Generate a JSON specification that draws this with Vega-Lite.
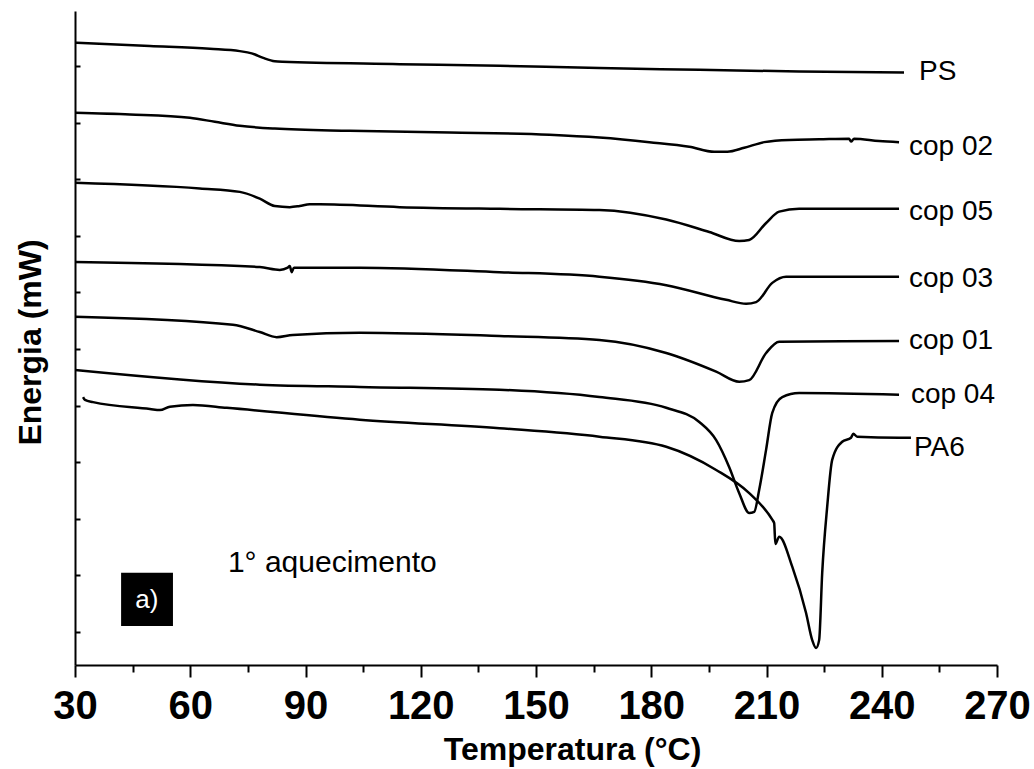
{
  "$schema": "https://vega.github.io/schema/vega-lite/v6.json",
  "autosize": "none",
  "width": 922,
  "height": 654,
  "padding": {"left": 75, "top": 11, "right": 37, "bottom": 104},
  "background": "white",
  "config": {
    "view": {"stroke": null},
    "font": "Liberation Sans",
    "text": {"font": "Liberation Sans"}
  },
  "layer": [
    {
      "data": {"values": [
        {"s":"PS","T":30,"E":10.92},{"s":"PS","T":49.5,"E":10.86},{"s":"PS","T":65.1,"E":10.81},{"s":"PS","T":72.9,"E":10.77},{"s":"PS","T":76.0,"E":10.73},{"s":"PS","T":79.0,"E":10.65},{"s":"PS","T":82.0,"E":10.59},{"s":"PS","T":84.0,"E":10.58},{"s":"PS","T":114.5,"E":10.54},{"s":"PS","T":140.5,"E":10.51},{"s":"PS","T":166.5,"E":10.47},{"s":"PS","T":192.5,"E":10.44},{"s":"PS","T":218.5,"E":10.41},{"s":"PS","T":245.8,"E":10.39},
        {"s":"cop 02","T":30,"E":9.68},{"s":"cop 02","T":44.3,"E":9.65},{"s":"cop 02","T":59.9,"E":9.59},{"s":"cop 02","T":66.4,"E":9.52},{"s":"cop 02","T":72.9,"E":9.45},{"s":"cop 02","T":82.0,"E":9.40},{"s":"cop 02","T":101.5,"E":9.36},{"s":"cop 02","T":127.5,"E":9.33},{"s":"cop 02","T":153.5,"E":9.29},{"s":"cop 02","T":166.5,"E":9.24},{"s":"cop 02","T":179.5,"E":9.16},{"s":"cop 02","T":189.9,"E":9.08},{"s":"cop 02","T":196.4,"E":8.99},{"s":"cop 02","T":199.8,"E":8.99},{"s":"cop 02","T":204.2,"E":9.06},{"s":"cop 02","T":209.4,"E":9.16},{"s":"cop 02","T":215.9,"E":9.20},{"s":"cop 02","T":223.7,"E":9.21},{"s":"cop 02","T":231.5,"E":9.22},{"s":"cop 02","T":232.0,"E":9.17},{"s":"cop 02","T":232.8,"E":9.22},{"s":"cop 02","T":239.3,"E":9.18},{"s":"cop 02","T":244.5,"E":9.16},
        {"s":"cop 05","T":30,"E":8.44},{"s":"cop 05","T":62.5,"E":8.34},{"s":"cop 05","T":72.9,"E":8.28},{"s":"cop 05","T":78.1,"E":8.16},{"s":"cop 05","T":82.0,"E":8.03},{"s":"cop 05","T":85.9,"E":8.01},{"s":"cop 05","T":88.5,"E":8.03},{"s":"cop 05","T":91.1,"E":8.06},{"s":"cop 05","T":93.7,"E":8.06},{"s":"cop 05","T":114.5,"E":8.01},{"s":"cop 05","T":140.5,"E":7.98},{"s":"cop 05","T":166.5,"E":7.96},{"s":"cop 05","T":183.9,"E":7.79},{"s":"cop 05","T":195.1,"E":7.57},{"s":"cop 05","T":202.9,"E":7.41},{"s":"cop 05","T":205.5,"E":7.43},{"s":"cop 05","T":209.9,"E":7.73},{"s":"cop 05","T":213.3,"E":7.93},{"s":"cop 05","T":218.5,"E":7.98},{"s":"cop 05","T":244.5,"E":7.98},
        {"s":"cop 03","T":30,"E":7.04},{"s":"cop 03","T":78.1,"E":6.95},{"s":"cop 03","T":83.3,"E":6.90},{"s":"cop 03","T":85.4,"E":6.94},{"s":"cop 03","T":85.9,"E":6.97},{"s":"cop 03","T":86.4,"E":6.86},{"s":"cop 03","T":87.0,"E":6.94},{"s":"cop 03","T":104.1,"E":6.94},{"s":"cop 03","T":140.5,"E":6.86},{"s":"cop 03","T":166.5,"E":6.78},{"s":"cop 03","T":183.9,"E":6.63},{"s":"cop 03","T":199.5,"E":6.37},{"s":"cop 03","T":204.7,"E":6.30},{"s":"cop 03","T":207.3,"E":6.33},{"s":"cop 03","T":211.5,"E":6.67},{"s":"cop 03","T":215.1,"E":6.78},{"s":"cop 03","T":244.5,"E":6.78},
        {"s":"cop 01","T":30,"E":6.07},{"s":"cop 01","T":71.1,"E":5.93},{"s":"cop 01","T":78.1,"E":5.80},{"s":"cop 01","T":82.5,"E":5.71},{"s":"cop 01","T":86.7,"E":5.75},{"s":"cop 01","T":104.1,"E":5.79},{"s":"cop 01","T":140.5,"E":5.73},{"s":"cop 01","T":166.5,"E":5.66},{"s":"cop 01","T":183.9,"E":5.43},{"s":"cop 01","T":196.9,"E":5.10},{"s":"cop 01","T":202.9,"E":4.92},{"s":"cop 01","T":205.5,"E":4.95},{"s":"cop 01","T":209.9,"E":5.43},{"s":"cop 01","T":213.3,"E":5.63},{"s":"cop 01","T":244.5,"E":5.64},
        {"s":"cop 04","T":30,"E":5.13},{"s":"cop 04","T":78.1,"E":4.87},{"s":"cop 04","T":104.1,"E":4.83},{"s":"cop 04","T":140.5,"E":4.78},{"s":"cop 04","T":166.5,"E":4.65},{"s":"cop 04","T":183.9,"E":4.46},{"s":"cop 04","T":192.5,"E":4.21},{"s":"cop 04","T":196.9,"E":3.89},{"s":"cop 04","T":200.3,"E":3.41},{"s":"cop 04","T":202.9,"E":2.95},{"s":"cop 04","T":205.5,"E":2.60},{"s":"cop 04","T":206.8,"E":2.62},{"s":"cop 04","T":208.1,"E":3.01},{"s":"cop 04","T":209.9,"E":3.72},{"s":"cop 04","T":211.5,"E":4.37},{"s":"cop 04","T":214.1,"E":4.65},{"s":"cop 04","T":218.5,"E":4.72},{"s":"cop 04","T":244.5,"E":4.69},
        {"s":"PA6","T":32.1,"E":4.65},{"s":"PA6","T":32.6,"E":4.60},{"s":"PA6","T":34.7,"E":4.56},{"s":"PA6","T":49.5,"E":4.44},{"s":"PA6","T":52.1,"E":4.42},{"s":"PA6","T":54.7,"E":4.48},{"s":"PA6","T":60.7,"E":4.51},{"s":"PA6","T":69.5,"E":4.46},{"s":"PA6","T":104.1,"E":4.25},{"s":"PA6","T":140.5,"E":4.10},{"s":"PA6","T":166.5,"E":3.95},{"s":"PA6","T":183.9,"E":3.77},{"s":"PA6","T":196.9,"E":3.36},{"s":"PA6","T":205.5,"E":2.95},{"s":"PA6","T":211.5,"E":2.48},{"s":"PA6","T":212.0,"E":2.42},{"s":"PA6","T":212.3,"E":2.05},{"s":"PA6","T":213.3,"E":2.18},{"s":"PA6","T":216.7,"E":1.65},{"s":"PA6","T":220.3,"E":0.83},{"s":"PA6","T":221.9,"E":0.35},{"s":"PA6","T":222.9,"E":0.21},{"s":"PA6","T":223.7,"E":0.35},{"s":"PA6","T":224.5,"E":1.54},{"s":"PA6","T":225.8,"E":2.71},{"s":"PA6","T":227.1,"E":3.54},{"s":"PA6","T":229.7,"E":3.86},{"s":"PA6","T":232.0,"E":3.93},{"s":"PA6","T":232.6,"E":4.00},{"s":"PA6","T":233.6,"E":3.95},{"s":"PA6","T":244.5,"E":3.93},{"s":"PA6","T":247.6,"E":3.93}
      ]},
      "mark": {"type": "line", "color": "black", "strokeWidth": 2.5, "interpolate": "monotone", "clip": true},
      "encoding": {
        "x": {"field": "T", "type": "quantitative",
          "scale": {"domain": [30, 270], "nice": false, "zero": false},
          "axis": {
            "values": [30,45,60,75,90,105,120,135,150,165,180,195,210,225,240,255,270],
            "labelExpr": "datum.value % 30 === 0 ? datum.label : ''",
            "labelFont": "Liberation Sans", "labelFontSize": 40, "labelFontWeight": "bold", "labelColor": "black",
            "labelBaseline": "alphabetic", "labelPadding": 41, "labelFlush": false, "labelOverlap": false,
            "tickSize": {"condition": {"test": "datum.value % 30 === 0", "value": 12}, "value": 7},
            "tickWidth": 2, "tickColor": "black",
            "domainColor": "black", "domainWidth": 2, "grid": false,
            "title": "Temperatura (°C)", "titleFont": "Liberation Sans", "titleFontSize": 32, "titleFontWeight": "bold", "titleColor": "black",
            "titleX": 497, "titleY": 94, "titleAlign": "center", "titleBaseline": "alphabetic"
          }
        },
        "y": {"field": "E", "type": "quantitative",
          "scale": {"domain": [-0.09, 11.48], "nice": false, "zero": false},
          "axis": {
            "values": [0.5,1.5,2.5,3.5,4.5,5.5,6.5,7.5,8.5,9.5,10.5],
            "labels": false, "tickSize": -5, "tickWidth": 2, "tickColor": "black",
            "domainColor": "black", "domainWidth": 2, "grid": false,
            "title": "Energia (mW)", "titleFont": "Liberation Sans", "titleFontSize": 32, "titleFontWeight": "bold", "titleColor": "black",
            "titleX": -45, "titleY": 331, "titleAlign": "center", "titleBaseline": "middle", "titleAngle": -90
          }
        },
        "detail": {"field": "s", "type": "nominal"}
      }
    },
    {
      "data": {"values": [
        {"label":"PS","T":249.7,"E":10.40},
        {"label":"cop 02","T":247.1,"E":9.08},
        {"label":"cop 05","T":247.1,"E":7.93},
        {"label":"cop 03","T":247.1,"E":6.74},
        {"label":"cop 01","T":247.1,"E":5.64},
        {"label":"cop 04","T":247.6,"E":4.69},
        {"label":"PA6","T":248.4,"E":3.75}
      ]},
      "mark": {"type": "text", "align": "left", "baseline": "middle", "fontSize": 28, "color": "black", "font": "Liberation Sans"},
      "encoding": {
        "x": {"field": "T", "type": "quantitative"},
        "y": {"field": "E", "type": "quantitative"},
        "text": {"field": "label"}
      }
    },
    {
      "data": {"values": [{"x1": 42.0, "x2": 55.5, "y1": 0.60, "y2": 1.54}]},
      "mark": {"type": "rect", "color": "black"},
      "encoding": {
        "x": {"field": "x1", "type": "quantitative"},
        "x2": {"field": "x2"},
        "y": {"field": "y1", "type": "quantitative"},
        "y2": {"field": "y2"}
      }
    },
    {
      "data": {"values": [
        {"label":"a)","T":48.7,"E":1.06,"c":"white","a":"center","b":"middle","f":26},
        {"label":"1° aquecimento","T":69.8,"E":1.56,"c":"black","a":"left","b":"alphabetic","f":30}
      ]},
      "transform": [{"filter": "datum.label === 'a)'"}],
      "mark": {"type": "text", "align": "center", "baseline": "middle", "fontSize": 26, "color": "white", "font": "Liberation Sans"},
      "encoding": {
        "x": {"field": "T", "type": "quantitative"},
        "y": {"field": "E", "type": "quantitative"},
        "text": {"field": "label"}
      }
    },
    {
      "data": {"values": [
        {"label":"1° aquecimento","T":69.8,"E":1.56}
      ]},
      "mark": {"type": "text", "align": "left", "baseline": "alphabetic", "fontSize": 30, "color": "black", "font": "Liberation Sans"},
      "encoding": {
        "x": {"field": "T", "type": "quantitative"},
        "y": {"field": "E", "type": "quantitative"},
        "text": {"field": "label"}
      }
    }
  ]
}
